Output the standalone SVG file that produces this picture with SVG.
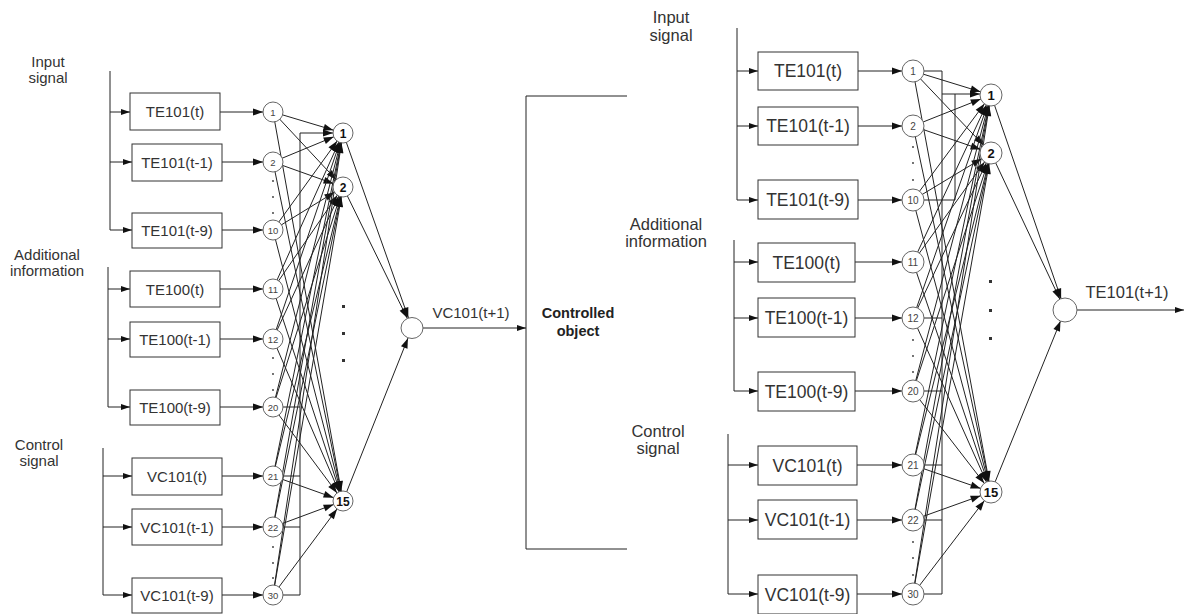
<svg xmlns="http://www.w3.org/2000/svg" width="1184" height="614" viewBox="0 0 1184 614">
<style>
text{font-family:"Liberation Sans",Arial,sans-serif;fill:#333}
.lbl{font-size:15px;text-anchor:middle}
.rl{font-size:16.5px;text-anchor:middle}
.bx{fill:#fff;stroke:#333;stroke-width:1}
.bt{font-size:15px;text-anchor:middle}
.rbt{font-size:17.5px;text-anchor:middle}
.in{fill:#fff;stroke:#666;stroke-width:1}
.it{font-size:9.5px;text-anchor:middle;fill:#444}
.rit{font-size:10px;text-anchor:middle;fill:#444}
.hn{fill:#fff;stroke:#666;stroke-width:1}
.ht{font-size:12px;font-weight:bold;text-anchor:middle;fill:#111}
.rht{font-size:13px;font-weight:bold;text-anchor:middle;fill:#111}
.c{fill:none;stroke:#222;stroke-width:1}
.m10{marker-end:url(#h10)}
.m11{marker-end:url(#h11)}
.ma{marker-end:url(#a)}
.dot{fill:#333}
</style>
<defs>
<marker id="a" markerUnits="userSpaceOnUse" markerWidth="9" markerHeight="6" refX="9" refY="3" orient="auto"><path d="M0,0L9,3L0,6z" fill="#111"/></marker>
<marker id="h10" markerUnits="userSpaceOnUse" markerWidth="10" markerHeight="7" refX="20" refY="3.5" orient="auto" overflow="visible"><path d="M0,0L10,3.5L0,7z" fill="#111"/></marker>
<marker id="h11" markerUnits="userSpaceOnUse" markerWidth="10" markerHeight="7" refX="21" refY="3.5" orient="auto" overflow="visible"><path d="M0,0L10,3.5L0,7z" fill="#111"/></marker>
<marker id="o12" markerUnits="userSpaceOnUse" markerWidth="10" markerHeight="7" refX="22" refY="3.5" orient="auto" overflow="visible"><path d="M0,0L10,3.5L0,7z" fill="#111"/></marker>
</defs>

<g id="connectors">
<path class="c" d="M110,71V230"/>
<path class="c ma" d="M110,112H130"/><path class="c ma" d="M110,162H132"/><path class="c ma" d="M110,230H132"/>
<path class="c" d="M108,267V407"/>
<path class="c ma" d="M108,289H130"/><path class="c ma" d="M108,339H130"/><path class="c ma" d="M108,407H130"/>
<path class="c" d="M103,448V595"/>
<path class="c ma" d="M103,476H132"/><path class="c ma" d="M103,527H132"/><path class="c ma" d="M103,595H132"/>
<path class="c m10" d="M220,112H273"/><path class="c m10" d="M222,162H273"/><path class="c m10" d="M222,230H273"/>
<path class="c m10" d="M220,289H273"/><path class="c m10" d="M220,339H273"/><path class="c m10" d="M220,407H273"/>
<path class="c m10" d="M222,476H273"/><path class="c m10" d="M222,527H273"/><path class="c m10" d="M222,595H273"/>
<path class="c m10" d="M273,112L343,133"/><path class="c m10" d="M273,112L343,187"/><path class="c m10" d="M273,112L343,501"/>
<path class="c m10" d="M273,162L343,133"/><path class="c m10" d="M273,162L343,187"/><path class="c m10" d="M273,162L343,501"/>
<path class="c m10" d="M273,230L343,133"/><path class="c m10" d="M273,230L343,187"/><path class="c m10" d="M273,230L343,501"/>
<path class="c m10" d="M273,289L343,133"/><path class="c m10" d="M273,289L343,187"/><path class="c m10" d="M273,289L343,501"/>
<path class="c m10" d="M273,339L343,133"/><path class="c m10" d="M273,339L343,187"/><path class="c m10" d="M273,339L343,501"/>
<path class="c m10" d="M273,407L343,133"/><path class="c m10" d="M273,407L343,187"/><path class="c m10" d="M273,407L343,501"/>
<path class="c m10" d="M273,476L343,133"/><path class="c m10" d="M273,476L343,187"/><path class="c m10" d="M273,476L343,501"/>
<path class="c m10" d="M273,527L343,133"/><path class="c m10" d="M273,527L343,187"/><path class="c m10" d="M273,527L343,501"/>
<path class="c m10" d="M273,595L343,133"/><path class="c m10" d="M273,595L343,187"/><path class="c m10" d="M273,595L343,501"/>
<path class="c m10" d="M273,595H300V133H343"/>
<path class="c" d="M273,407H300M273,476H300M273,527H300"/>
<path class="c" style="marker-end:url(#h11)" d="M343,133L412,328"/>
<path class="c" style="marker-end:url(#h11)" d="M343,187L412,328"/>
<path class="c" style="marker-end:url(#h11)" d="M343,501L412,328"/>
<path class="c ma" d="M412,328H526"/>
<path class="c" d="M627,96H526V549H627"/>
<path class="c" d="M737,28V200"/>
<path class="c ma" d="M737,71H758"/><path class="c ma" d="M737,126H758"/><path class="c ma" d="M737,200H758"/>
<path class="c" d="M734,240V391"/>
<path class="c ma" d="M734,262H758"/><path class="c ma" d="M734,318H758"/><path class="c ma" d="M734,391H758"/>
<path class="c" d="M728,434V594"/>
<path class="c ma" d="M728,465H758"/><path class="c ma" d="M728,520H758"/><path class="c ma" d="M728,594H758"/>
<path class="c m11" d="M858,71H913"/><path class="c m11" d="M858,126H913"/><path class="c m11" d="M858,200H913"/>
<path class="c m11" d="M855,262H913"/><path class="c m11" d="M855,318H913"/><path class="c m11" d="M855,391H913"/>
<path class="c m11" d="M857,465H913"/><path class="c m11" d="M857,520H913"/><path class="c m11" d="M857,594H913"/>
<path class="c m11" d="M913,71L991,95"/><path class="c m11" d="M913,71L991,153"/><path class="c m11" d="M913,71L991,492"/>
<path class="c m11" d="M913,126L991,95"/><path class="c m11" d="M913,126L991,153"/><path class="c m11" d="M913,126L991,492"/>
<path class="c m11" d="M913,200L991,95"/><path class="c m11" d="M913,200L991,153"/><path class="c m11" d="M913,200L991,492"/>
<path class="c m11" d="M913,262L991,95"/><path class="c m11" d="M913,262L991,153"/><path class="c m11" d="M913,262L991,492"/>
<path class="c m11" d="M913,318L991,95"/><path class="c m11" d="M913,318L991,153"/><path class="c m11" d="M913,318L991,492"/>
<path class="c m11" d="M913,391L991,95"/><path class="c m11" d="M913,391L991,153"/><path class="c m11" d="M913,391L991,492"/>
<path class="c m11" d="M913,465L991,95"/><path class="c m11" d="M913,465L991,153"/><path class="c m11" d="M913,465L991,492"/>
<path class="c m11" d="M913,520L991,95"/><path class="c m11" d="M913,520L991,153"/><path class="c m11" d="M913,520L991,492"/>
<path class="c m11" d="M913,594L991,95"/><path class="c m11" d="M913,594L991,153"/><path class="c m11" d="M913,594L991,492"/>
<path class="c" d="M913,71H942V594H913"/>
<path class="c" d="M913,318H942M913,391H942M913,465H942M913,520H942"/>
<path class="c" d="M913,200H955V94"/>
<path class="c m11" d="M942,94H991"/>
<path class="c" style="marker-end:url(#o12)" d="M991,95L1065,310"/>
<path class="c" style="marker-end:url(#o12)" d="M991,153L1065,310"/>
<path class="c" style="marker-end:url(#o12)" d="M991,492L1065,310"/>
<path class="c ma" d="M1065,310H1184"/>
</g>

<g id="left-labels">
<text class="lbl" x="48" y="67">Input</text><text class="lbl" x="48" y="83">signal</text>
<text class="lbl" x="47" y="260">Additional</text><text class="lbl" x="47" y="276">information</text>
<text class="lbl" x="39" y="450">Control</text><text class="lbl" x="39" y="466">signal</text>
</g>

<g id="L-TE101t"><rect class="bx" x="130" y="93" width="90" height="37"/><text class="bt" x="175" y="117">TE101(t)</text></g>
<g id="L-TE101t1"><rect class="bx" x="132" y="144" width="90" height="37"/><text class="bt" x="177" y="168">TE101(t-1)</text></g>
<g id="L-TE101t9"><rect class="bx" x="132" y="213" width="90" height="35"/><text class="bt" x="177" y="236">TE101(t-9)</text></g>
<g id="L-TE100t"><rect class="bx" x="130" y="271" width="90" height="36"/><text class="bt" x="175" y="294.5">TE100(t)</text></g>
<g id="L-TE100t1"><rect class="bx" x="130" y="322" width="90" height="35"/><text class="bt" x="175" y="345">TE100(t-1)</text></g>
<g id="L-TE100t9"><rect class="bx" x="130" y="390" width="90" height="35"/><text class="bt" x="175" y="413">TE100(t-9)</text></g>
<g id="L-VC101t"><rect class="bx" x="132" y="458" width="90" height="37"/><text class="bt" x="177" y="482">VC101(t)</text></g>
<g id="L-VC101t1"><rect class="bx" x="132" y="509" width="90" height="36"/><text class="bt" x="177" y="532.5">VC101(t-1)</text></g>
<g id="L-VC101t9"><rect class="bx" x="132" y="578" width="90" height="35"/><text class="bt" x="177" y="601">VC101(t-9)</text></g>

<g id="L-n1"><circle class="in" cx="273" cy="112" r="10"/><text class="it" x="273" y="115.5">1</text></g>
<g id="L-n2"><circle class="in" cx="273" cy="162" r="10"/><text class="it" x="273" y="165.5">2</text></g>
<g id="L-n10"><circle class="in" cx="273" cy="230" r="10"/><text class="it" x="273" y="233.5">10</text></g>
<g id="L-n11"><circle class="in" cx="273" cy="289" r="10"/><text class="it" x="273" y="292.5">11</text></g>
<g id="L-n12"><circle class="in" cx="273" cy="339" r="10"/><text class="it" x="273" y="342.5">12</text></g>
<g id="L-n20"><circle class="in" cx="273" cy="407" r="10"/><text class="it" x="273" y="410.5">20</text></g>
<g id="L-n21"><circle class="in" cx="273" cy="476" r="10"/><text class="it" x="273" y="479.5">21</text></g>
<g id="L-n22"><circle class="in" cx="273" cy="527" r="10"/><text class="it" x="273" y="530.5">22</text></g>
<g id="L-n30"><circle class="in" cx="273" cy="595" r="10"/><text class="it" x="273" y="598.5">30</text></g>
<g id="L-dots">
<circle class="dot" cx="273" cy="181" r="0.9"/><circle class="dot" cx="273" cy="197" r="0.9"/><circle class="dot" cx="273" cy="213" r="0.9"/>
<circle class="dot" cx="273" cy="358" r="0.9"/><circle class="dot" cx="273" cy="374" r="0.9"/><circle class="dot" cx="273" cy="390" r="0.9"/>
<circle class="dot" cx="273" cy="547" r="0.9"/><circle class="dot" cx="273" cy="563" r="0.9"/><circle class="dot" cx="273" cy="578" r="0.9"/>
<rect class="dot" x="342" y="305" width="3" height="3"/><rect class="dot" x="342" y="332" width="3" height="3"/><rect class="dot" x="342" y="359" width="3" height="3"/>
</g>
<g id="L-h1"><circle class="hn" cx="343" cy="133" r="10"/><text class="ht" x="343" y="137.5">1</text></g>
<g id="L-h2"><circle class="hn" cx="343" cy="187" r="10"/><text class="ht" x="343" y="191.5">2</text></g>
<g id="L-h15"><circle class="hn" cx="343" cy="501" r="10"/><text class="ht" x="343" y="505.5">15</text></g>
<g id="L-out"><ellipse class="hn" cx="412" cy="328" rx="11" ry="10.5"/><text class="lbl" x="471" y="318">VC101(t+1)</text></g>

<g id="controlled-object"><text x="578" y="318" style="font-size:14.5px;font-weight:bold;text-anchor:middle;fill:#222">Controlled</text><text x="578" y="336" style="font-size:14.5px;font-weight:bold;text-anchor:middle;fill:#222">object</text></g>

<g id="right-labels">
<text class="rl" x="671" y="23">Input</text><text class="rl" x="671" y="41">signal</text>
<text class="rl" x="666" y="230">Additional</text><text class="rl" x="666" y="247">information</text>
<text class="rl" x="658" y="437">Control</text><text class="rl" x="658" y="454">signal</text>
</g>

<g id="R-TE101t"><rect class="bx" x="758" y="52" width="100" height="38"/><text class="rbt" x="808" y="77">TE101(t)</text></g>
<g id="R-TE101t1"><rect class="bx" x="758" y="107" width="100" height="38"/><text class="rbt" x="808" y="132">TE101(t-1)</text></g>
<g id="R-TE101t9"><rect class="bx" x="758" y="180" width="100" height="39"/><text class="rbt" x="808" y="205.5">TE101(t-9)</text></g>
<g id="R-TE100t"><rect class="bx" x="758" y="243" width="97" height="39"/><text class="rbt" x="806.5" y="268.5">TE100(t)</text></g>
<g id="R-TE100t1"><rect class="bx" x="758" y="298" width="97" height="39"/><text class="rbt" x="806.5" y="323.5">TE100(t-1)</text></g>
<g id="R-TE100t9"><rect class="bx" x="758" y="372" width="97" height="39"/><text class="rbt" x="806.5" y="397.5">TE100(t-9)</text></g>
<g id="R-VC101t"><rect class="bx" x="758" y="446" width="99" height="39"/><text class="rbt" x="807.5" y="471.5">VC101(t)</text></g>
<g id="R-VC101t1"><rect class="bx" x="758" y="500" width="99" height="39"/><text class="rbt" x="807.5" y="525.5">VC101(t-1)</text></g>
<g id="R-VC101t9"><rect class="bx" x="758" y="575" width="99" height="39"/><text class="rbt" x="807.5" y="600.5">VC101(t-9)</text></g>

<g id="R-n1"><circle class="in" cx="913" cy="71" r="11"/><text class="rit" x="913" y="74.5">1</text></g>
<g id="R-n2"><circle class="in" cx="913" cy="126" r="11"/><text class="rit" x="913" y="129.5">2</text></g>
<g id="R-n10"><circle class="in" cx="913" cy="200" r="11"/><text class="rit" x="913" y="203.5">10</text></g>
<g id="R-n11"><circle class="in" cx="913" cy="262" r="11"/><text class="rit" x="913" y="265.5">11</text></g>
<g id="R-n12"><circle class="in" cx="913" cy="318" r="11"/><text class="rit" x="913" y="321.5">12</text></g>
<g id="R-n20"><circle class="in" cx="913" cy="391" r="11"/><text class="rit" x="913" y="394.5">20</text></g>
<g id="R-n21"><circle class="in" cx="913" cy="465" r="11"/><text class="rit" x="913" y="468.5">21</text></g>
<g id="R-n22"><circle class="in" cx="913" cy="520" r="11"/><text class="rit" x="913" y="523.5">22</text></g>
<g id="R-n30"><circle class="in" cx="913" cy="594" r="11"/><text class="rit" x="913" y="597.5">30</text></g>
<g id="R-dots">
<circle class="dot" cx="913" cy="147" r="0.9"/><circle class="dot" cx="913" cy="163" r="0.9"/><circle class="dot" cx="913" cy="180" r="0.9"/>
<circle class="dot" cx="913" cy="340" r="0.9"/><circle class="dot" cx="913" cy="356" r="0.9"/><circle class="dot" cx="913" cy="372" r="0.9"/>
<circle class="dot" cx="913" cy="542" r="0.9"/><circle class="dot" cx="913" cy="558" r="0.9"/><circle class="dot" cx="913" cy="575" r="0.9"/>
<rect class="dot" x="989" y="280" width="3" height="3"/><rect class="dot" x="989" y="309" width="3" height="3"/><rect class="dot" x="989" y="337" width="3" height="3"/>
</g>
<g id="R-h1"><circle class="hn" cx="991" cy="95" r="11"/><text class="rht" x="991" y="100">1</text></g>
<g id="R-h2"><circle class="hn" cx="991" cy="153" r="11"/><text class="rht" x="991" y="158">2</text></g>
<g id="R-h15"><circle class="hn" cx="991" cy="492" r="11"/><text class="rht" x="991" y="497">15</text></g>
<g id="R-out"><circle class="hn" cx="1065" cy="310" r="12"/><text class="rl" x="1127" y="298">TE101(t+1)</text></g>
</svg>
